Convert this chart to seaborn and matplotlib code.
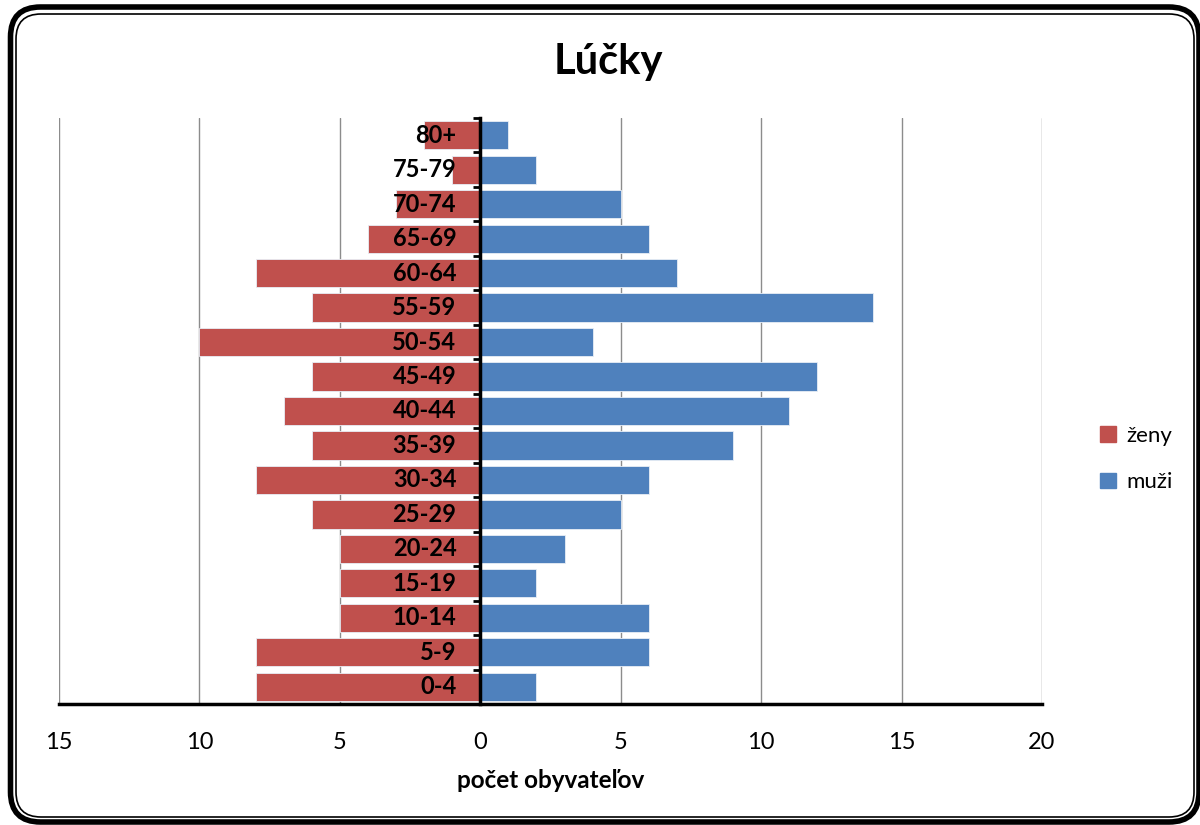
import pandas as pd
import matplotlib
matplotlib.use("Agg")
import matplotlib.pyplot as plt
from matplotlib.patches import FancyBboxPatch, Patch
from matplotlib.ticker import FixedLocator
import seaborn as sns

# data (top to bottom as drawn)
ages = ["80+", "75-79", "70-74", "65-69", "60-64", "55-59", "50-54", "45-49",
        "40-44", "35-39", "30-34", "25-29", "20-24", "15-19", "10-14", "5-9", "0-4"]
zeny = [2, 1, 3, 4, 8, 6, 10, 6, 7, 6, 8, 6, 5, 5, 5, 8, 8]
muzi = [1, 2, 5, 6, 7, 14, 4, 12, 11, 9, 6, 5, 3, 2, 6, 6, 2]
x_ticks = [-15, -10, -5, 0, 5, 10, 15, 20]

red = "#C0504D"
blue = "#4F81BD"

df = pd.DataFrame({
    "vek": ages * 2,
    "pohlavie": ["ženy"] * len(ages) + ["muži"] * len(ages),
    "pocet": [-v for v in zeny] + muzi,
})

sns.set_theme(style="white")
plt.rcParams["font.family"] = ["Lato", "DejaVu Sans"]
plt.rcParams["text.color"] = "black"
plt.rcParams["axes.labelcolor"] = "black"
plt.rcParams["xtick.color"] = "black"
plt.rcParams["ytick.color"] = "black"

fig = plt.figure(figsize=(12, 8.25), dpi=100)

# rounded double frame around the chart
bg = fig.add_axes([0, 0, 1, 1], zorder=-5)
bg.set_xlim(0, 1200)
bg.set_ylim(825, 0)
bg.axis("off")
bg.add_patch(FancyBboxPatch((10.5, 7), 1188.5, 815, boxstyle="round,pad=0,rounding_size=30",
                            fill=False, ec="black", lw=4))
bg.add_patch(FancyBboxPatch((16, 14), 1178, 803, boxstyle="round,pad=0,rounding_size=25",
                            fill=False, ec="black", lw=1.2))

ax = fig.add_axes([59 / 1200, 1 - 704 / 825, (1042 - 59) / 1200, (704 - 118) / 825])
sns.barplot(data=df, x="pocet", y="vek", hue="pohlavie", order=ages,
            palette={"ženy": red, "muži": blue}, dodge=False, orient="h",
            width=0.82, saturation=1, edgecolor="#e8eef6", linewidth=0.6,
            legend=False, ax=ax)

ax.set_xlim(-15, 20)
ax.set_ylim(len(ages) - 0.5, -0.5)
ax.set_xticks(x_ticks)
ax.set_xticklabels([str(abs(t)) for t in x_ticks], fontsize=17)
ax.tick_params(axis="x", direction="out", length=8, width=2, color="black", pad=12)
ax.xaxis.grid(True, color="#8c8c8c", lw=1)
ax.set_axisbelow(True)

# y axis on zero, ticks at category boundaries
ax.spines["left"].set_position(("data", 0))
ax.spines["left"].set_linewidth(2.5)
ax.spines["left"].set_color("black")
ax.spines["left"].set_zorder(5)
ax.spines["bottom"].set_linewidth(2.5)
ax.spines["bottom"].set_color("black")
ax.spines["top"].set_visible(False)
ax.spines["right"].set_visible(False)
ax.set_yticks([])
ax.yaxis.set_minor_locator(FixedLocator([i - 0.5 for i in range(len(ages) + 1)]))
ax.tick_params(axis="y", which="minor", direction="out", length=5, width=2, color="black", left=True)

for i, a in enumerate(ages):
    ax.text(-0.85, i, a, ha="right", va="center", fontsize=17, fontweight="bold", zorder=6)

ax.set_ylabel("")
ax.set_xlabel("počet obyvateľov", fontsize=17.5, fontweight="bold", labelpad=12)

fig.text(608 / 1200, 1 - 62 / 825, "Lúčky", ha="center", va="center",
         fontsize=30, fontweight="bold")

handles = [Patch(color=red, label="ženy"), Patch(color=blue, label="muži")]
fig.legend(handles=handles, loc="center left", bbox_to_anchor=(1100 / 1200, 1 - 459 / 825),
           frameon=False, fontsize=16, handlelength=0.7, handleheight=0.7,
           handletextpad=0.5, labelspacing=1.2, borderpad=0, borderaxespad=0)

fig.savefig("out.png", dpi=100)
